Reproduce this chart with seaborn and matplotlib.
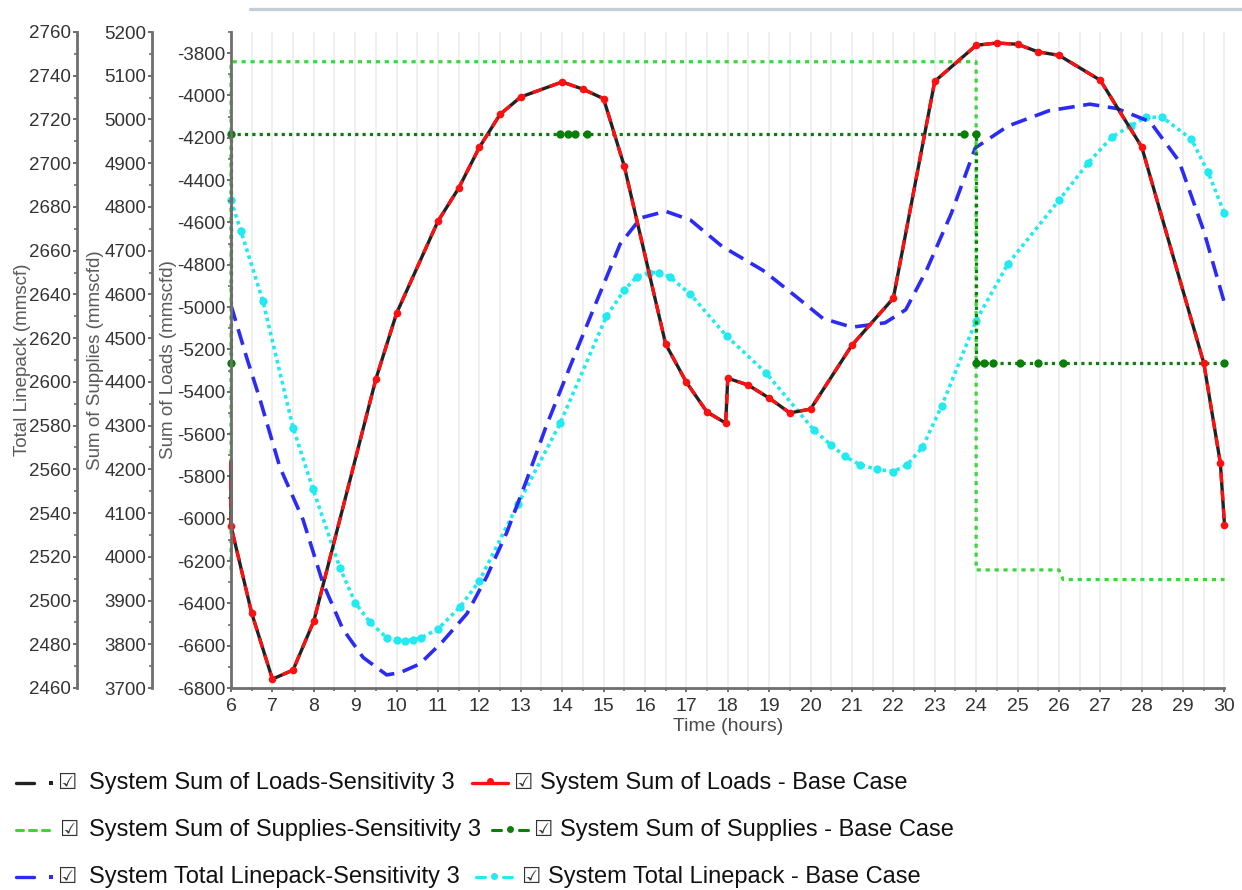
import matplotlib
matplotlib.use("Agg")
import matplotlib.pyplot as plt
from matplotlib.lines import Line2D
from matplotlib.ticker import MultipleLocator
import seaborn as sns

# ---- values ----
load_hours = [6.0, 6.0, 6.5, 7.0, 7.5, 8.0, 9.5, 10.0, 11.0, 11.5, 12.0, 12.5, 13.0,
              14.0, 14.5, 15.0, 15.5, 16.5, 17.0, 17.5, 17.95, 18.0, 18.5, 19.0,
              19.5, 20.0, 21.0, 22.0, 23.0, 24.0, 24.5, 25.0, 25.5, 26.0, 27.0,
              28.0, 29.5, 29.9, 30.0]
load_base = [-5730, -6035, -6446, -6758, -6715, -6484, -5340, -5029, -4594, -4438,
             -4245, -4089, -4007, -3936, -3970, -4015, -4334, -5175, -5355, -5496,
             -5548, -5336, -5369, -5430, -5500, -5482, -5180, -4958, -3933, -3763,
             -3752, -3758, -3794, -3810, -3928, -4243, -5265, -5737, -6030]
load_sens3 = list(load_base)  # sensitivity 3 coincides with the base case

supply_sens_hours = [6.0, 6.0, 24.0, 24.0, 26.0, 26.1, 30.0]
supply_sens3 = [3970, 5132, 5132, 3970, 3970, 3948, 3948]

supply_base_hours = [6.0, 6.0, 13.95, 14.15, 14.3, 14.6, 23.7, 24.0, 24.0, 24.2,
                     24.4, 25.05, 25.5, 26.1, 30.0]
supply_base = [4443, 4967, 4967, 4967, 4967, 4967, 4967, 4967, 4443, 4443,
               4443, 4443, 4443, 4443, 4443]

linepack_sens_hours = [6.0, 6.38, 6.7, 7.18, 7.74, 8.22, 8.7, 9.19, 9.76, 10.08,
                       10.56, 11.1, 11.7, 12.18, 12.66, 13.14, 13.6, 14.19, 14.75,
                       15.4, 15.9, 16.5, 17.1, 17.86, 18.85, 19.65, 20.3, 21.0,
                       21.8, 22.3, 22.8, 23.4, 23.98, 24.77, 25.76, 26.75, 27.4,
                       28.2, 28.9, 29.5, 30.0]
linepack_sens3 = [2635, 2611, 2592, 2561, 2537, 2508, 2487, 2474, 2466, 2467,
                  2471, 2481, 2494, 2511, 2531, 2555, 2579, 2607, 2633,
                  2663, 2675, 2678, 2674, 2662, 2651, 2639, 2629, 2625,
                  2627, 2633, 2651, 2677, 2707, 2717, 2724, 2727, 2725,
                  2719, 2701, 2669, 2636]

linepack_base_hours = [6.0, 6.24, 6.77, 7.5, 7.98, 8.63, 9.0, 9.36, 9.76, 10.0,
                       10.2, 10.4, 10.6, 11.0, 11.53, 12.0, 12.93, 13.95, 15.07,
                       15.5, 15.8, 16.1, 16.34, 16.6, 17.1, 17.97, 18.93, 20.08,
                       20.5, 20.83, 21.2, 21.6, 22.0, 22.33, 22.7, 23.17, 24.0,
                       24.77, 26.0, 26.7, 27.28, 27.73, 28.1, 28.5, 29.2, 29.6, 30.0]
linepack_base = [2683, 2669, 2637, 2579, 2551, 2515, 2499, 2490, 2483, 2482,
                 2481.5, 2482, 2483, 2487, 2497, 2509, 2544, 2581, 2630,
                 2642, 2648, 2650, 2650, 2648, 2640, 2621, 2604, 2578,
                 2571, 2566, 2562, 2560, 2559, 2562, 2570, 2589, 2628,
                 2654, 2683, 2700, 2712, 2717, 2721, 2721, 2711, 2696, 2677]

legend_rows = [
    ("System Sum of Loads-Sensitivity 3", "System Sum of Loads - Base Case"),
    ("System Sum of Supplies-Sensitivity 3", "System Sum of Supplies - Base Case"),
    ("System Total Linepack-Sensitivity 3", "System Total Linepack - Base Case"),
]

C_BLACK = "#222222"
C_RED = "#ff1010"
C_LGREEN = "#3ad63a"
C_DGREEN = "#0b7d0b"
C_BLUE = "#2b2bf5"
C_CYAN = "#22eaf0"
SPINE = "#6e6e6e"
TXT = "#333333"

sns.set_theme(style="white")
plt.rcParams["font.family"] = ["Liberation Sans", "DejaVu Sans"]
plt.rcParams["axes.unicode_minus"] = False

W, H = 1242, 890
fig = plt.figure(figsize=(W / 100, H / 100), dpi=100)
ax_lp = fig.add_axes([231 / W, 1 - 688 / H, 993.5 / W, 656 / H])
ax_sup = ax_lp.twinx()
ax_ld = ax_lp.twinx()


def px2pt(v):
    return v * 72 / 100


def put_left(ax, offset_px):
    ax.yaxis.tick_left()
    ax.yaxis.set_label_position("left")
    for s in ("top", "right", "bottom"):
        ax.spines[s].set_visible(False)
    ax.spines["left"].set_visible(True)
    ax.spines["left"].set_position(("outward", px2pt(offset_px)))
    ax.spines["left"].set_color(SPINE)
    ax.spines["left"].set_linewidth(2)
    ax.tick_params(axis="y", which="major", length=3, width=1.4, color=SPINE,
                   pad=1.2, labelsize=13.5, labelcolor=TXT, left=True)
    ax.tick_params(axis="y", which="minor", length=2, width=1.2, color=SPINE, left=True)


def draw(ax, x, y, **kw):
    sns.lineplot(x=x, y=y, ax=ax, estimator=None, sort=False, legend=False,
                 clip_on=False, **kw)


# linepack (bottom layer)
draw(ax_lp, linepack_base_hours, linepack_base, color=C_CYAN, linewidth=2.6,
     linestyle=(0, (1.0, 1.0)), marker="o", markersize=6, markeredgewidth=0)
draw(ax_lp, linepack_sens_hours, linepack_sens3, color=C_BLUE, linewidth=2.6,
     linestyle=(0, (4.5, 2.4)))

# supplies
draw(ax_sup, supply_sens_hours, supply_sens3, color=C_LGREEN, linewidth=2.3,
     linestyle=(0, (1.3, 1.5)))
draw(ax_sup, supply_base_hours, supply_base, color=C_DGREEN, linewidth=2.3,
     linestyle=(0, (1.0, 1.3)), marker="o", markersize=6, markeredgewidth=0)

# loads (top layer)
draw(ax_ld, load_hours, load_sens3, color=C_BLACK, linewidth=2.4)
draw(ax_ld, load_hours, load_base, color=C_RED, linewidth=2.4,
     linestyle=(0, (3.0, 2.4)), marker="o", markersize=5.5, markeredgewidth=0,
     markevery=list(range(1, len(load_hours))))

# axes / ticks
ax_lp.set_xlim(6, 30)
ax_lp.set_ylim(2460, 2760)
ax_sup.set_ylim(3700, 5200)
ax_ld.set_ylim(-6800, -3700)

ax_lp.yaxis.set_major_locator(MultipleLocator(20))
ax_lp.yaxis.set_minor_locator(MultipleLocator(10))
ax_sup.yaxis.set_major_locator(MultipleLocator(100))
ax_sup.yaxis.set_minor_locator(MultipleLocator(50))
ax_ld.yaxis.set_major_locator(MultipleLocator(200))
ax_ld.yaxis.set_minor_locator(MultipleLocator(100))

put_left(ax_lp, 154)
put_left(ax_sup, 79)
put_left(ax_ld, 0)

ax_lp.spines["bottom"].set_visible(True)
ax_lp.spines["bottom"].set_color(SPINE)
ax_lp.spines["bottom"].set_linewidth(2)
ax_lp.xaxis.set_major_locator(MultipleLocator(1))
ax_lp.xaxis.set_minor_locator(MultipleLocator(0.5))
ax_lp.tick_params(axis="x", which="major", length=3, width=1.4, color=SPINE,
                  pad=4.5, labelsize=14, labelcolor=TXT, bottom=True)
ax_lp.tick_params(axis="x", which="minor", length=2, width=1.2, color=SPINE, bottom=True)
ax_lp.grid(True, axis="x", which="both", color="#ececec", linewidth=1.1)
ax_lp.grid(False, axis="y")
ax_lp.set_axisbelow(True)

ax_lp.set_xlabel("Time (hours)", fontsize=14, color="#4a4a4a")
ax_lp.xaxis.set_label_coords(0.5, -0.046)
ax_lp.set_ylabel("Total Linepack (mmscf)", fontsize=13.5, color="#5a5a5a")
ax_sup.set_ylabel("Sum of Supplies (mmscfd)", fontsize=13.5, color="#5a5a5a")
ax_ld.set_ylabel("Sum of Loads (mmscfd)", fontsize=13.5, color="#5a5a5a")
ax_lp.yaxis.set_label_coords(-0.2013, 0.5)
ax_sup.yaxis.set_label_coords(-0.1278, 0.5)
ax_ld.yaxis.set_label_coords(-0.0544, 0.5)
ax_sup.set_xlabel("")
ax_ld.set_xlabel("")


# ---- legend drawn below the plot, laid out like the original ----
def fx(x):
    return x / W


def fy(y):
    return 1 - y / H


def seg(x0, x1, y, color, **kw):
    fig.add_artist(Line2D([fx(x0), fx(x1)], [fy(y), fy(y)], color=color,
                          transform=fig.transFigure, **kw))


def dot(x, y, color, ms=3.5, marker="o"):
    fig.add_artist(Line2D([fx(x)], [fy(y)], color=color, marker=marker, markersize=ms,
                          markeredgewidth=0, linestyle="none", transform=fig.transFigure))


def entry(box_x, text_x, y, label):
    fig.text(fx(box_x), fy(y), "\u2611", fontsize=15.5, color="#333333",
             family=["DejaVu Sans"], ha="center", va="center")
    fig.text(fx(text_x), fy(y), label, fontsize=17, color="#111111",
             ha="left", va="center")


rows_y = [783, 830, 877]

# row 1: loads
seg(16, 34, rows_y[0], C_BLACK, linewidth=2.4)
dot(51, rows_y[0], C_BLACK, ms=2.5, marker="s")
entry(67, 89, rows_y[0], legend_rows[0][0])
seg(472, 508, rows_y[0], C_RED, linewidth=2.4)
dot(490, rows_y[0] - 2, C_RED, ms=5)
entry(523, 540, rows_y[0], legend_rows[0][1])

# row 2: supplies
for a in (16, 29, 42):
    seg(a, a + 7, rows_y[1], C_LGREEN, linewidth=2.2)
entry(69, 89, rows_y[1], legend_rows[1][0])
seg(492, 501, rows_y[1], C_DGREEN, linewidth=2.2)
dot(510, rows_y[1] - 1, C_DGREEN, ms=5)
seg(519, 528, rows_y[1], C_DGREEN, linewidth=2.2)
entry(543, 560, rows_y[1], legend_rows[1][1])

# row 3: linepack
seg(16, 34, rows_y[2], C_BLUE, linewidth=2.4)
dot(51, rows_y[2], C_BLUE, ms=2.5, marker="s")
entry(67, 89, rows_y[2], legend_rows[2][0])
seg(476, 485, rows_y[2], C_CYAN, linewidth=2.2)
dot(494, rows_y[2] - 1, C_CYAN, ms=5)
seg(503, 512, rows_y[2], C_CYAN, linewidth=2.2)
entry(531, 548, rows_y[2], legend_rows[2][1])

# thin grey bar across the top of the screenshot
seg(250, 1242, 9, "#c5cdd5", linewidth=2.4)

fig.savefig("out.png", dpi=100)
